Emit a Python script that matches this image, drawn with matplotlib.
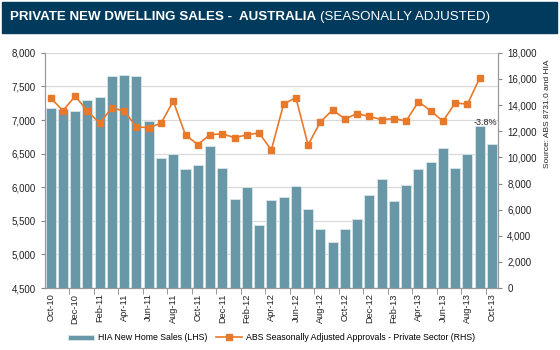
import numpy as np
import matplotlib.pyplot as plt
from matplotlib.patches import Rectangle

plt.rcParams['font.family'] = ['Liberation Sans', 'DejaVu Sans']

# monthly, Oct-10 .. Oct-13
months = ["Oct-10", "Nov-10", "Dec-10", "Jan-11", "Feb-11", "Mar-11", "Apr-11", "May-11",
          "Jun-11", "Jul-11", "Aug-11", "Sep-11", "Oct-11", "Nov-11", "Dec-11", "Jan-12",
          "Feb-12", "Mar-12", "Apr-12", "May-12", "Jun-12", "Jul-12", "Aug-12", "Sep-12",
          "Oct-12", "Nov-12", "Dec-12", "Jan-13", "Feb-13", "Mar-13", "Apr-13", "May-13",
          "Jun-13", "Jul-13", "Aug-13", "Sep-13", "Oct-13"]

# HIA new home sales (LHS)
hia_sales = [7175, 7160, 7130, 7300, 7340, 7657, 7672, 7652, 6987, 6431, 6500, 6267, 6332,
             6609, 6292, 5830, 6009, 5443, 5815, 5860, 6024, 5681, 5383, 5189, 5373, 5532,
             5880, 6118, 5796, 6039, 6277, 6371, 6590, 6287, 6500, 6913, 6650]

# ABS approvals, private sector (RHS) - no value for last month
abs_approvals = [14550, 13580, 14680, 13560, 12610, 13810, 13530, 12330, 12280, 12610,
                 14300, 11720, 10980, 11740, 11800, 11510, 11720, 11870, 10570, 14070,
                 14580, 10950, 12710, 13630, 12940, 13350, 13130, 12890, 12970, 12790,
                 14270, 13560, 12770, 14170, 14070, 16080]

bar_col = "#6898a8"
line_col = "#e8792a"
navy = "#003a5c"

fig = plt.figure(figsize=(5.6, 3.5), dpi=100)
ax = fig.add_axes([0.0795, 0.177, 0.81, 0.672])
ax2 = ax.twinx()

x = np.arange(len(months))
ax.bar(x, hia_sales, width=0.82, color=bar_col, edgecolor="#d8e6ea", linewidth=0.6,
       label="HIA New Home Sales (LHS)", zorder=2)
ax2.plot(x[:len(abs_approvals)], abs_approvals, color=line_col, lw=1.2, marker="s",
         markersize=4.5, label="ABS Seasonally Adjusted Approvals - Private Sector (RHS)")

ax.set_xlim(-0.5, len(months) - 0.5)
ax.set_ylim(4500, 8000)
ax.set_yticks(np.arange(4500, 8001, 500))
ax.set_yticklabels([f"{v:,}" for v in range(4500, 8001, 500)])
ax2.set_ylim(0, 18000)
ax2.set_yticks(np.arange(0, 18001, 2000))
ax2.set_yticklabels([f"{v:,}" for v in range(0, 18001, 2000)])

ax.grid(axis="y", color="#d9d9d9", lw=0.9, zorder=0)
ax.set_axisbelow(True)

# labels on every second month, ticks between categories
ax.set_xticks(x[::2])
ax.set_xticklabels(months[::2], rotation=90)
ax.set_xticks(np.arange(1.5, len(months) - 1, 2), minor=True)
ax.tick_params(axis="x", which="major", length=0, pad=4)
ax.tick_params(axis="x", which="minor", length=4, color="#888888")

for a in (ax, ax2):
    a.tick_params(labelsize=7, colors="#222222", width=0.8)
    a.tick_params(axis="y", length=3, color="#888888")
    for s in a.spines.values():
        s.set_color("#999999")
        s.set_linewidth(0.8)
    a.spines["top"].set_visible(False)
ax.tick_params(axis="x", labelsize=6.7)

ax2.text(36.45, 12300, "-3.8%", fontsize=6.5, ha="right", va="bottom", color="#222222")

fig.text(0.978, 0.83, "Source: ABS 8731.0 and HIA", rotation=90, fontsize=6,
         ha="center", va="top", color="#222222")

# title banner
fig.patches.append(Rectangle((0.004, 0.905), 0.991, 0.089, transform=fig.transFigure,
                             color=navy, zorder=0))
t1 = fig.text(0.018, 0.951, "PRIVATE NEW DWELLING SALES -  AUSTRALIA", color="white",
              fontsize=9.6, fontweight="bold", va="center")
fig.canvas.draw()
bb = t1.get_window_extent().transformed(fig.transFigure.inverted())
fig.text(bb.x1 + 0.007, 0.951, "(SEASONALLY ADJUSTED)", color="white", fontsize=9.6,
         va="center")

h1, l1 = ax.get_legend_handles_labels()
h2, l2 = ax2.get_legend_handles_labels()
fig.legend(h1 + h2, l1 + l2, loc="center", bbox_to_anchor=(0.485, 0.035), ncol=2,
           frameon=False, fontsize=6.3, handlelength=3.0, handleheight=0.5,
           columnspacing=1.0, handletextpad=0.4)

fig.savefig("out.png", dpi=100)
